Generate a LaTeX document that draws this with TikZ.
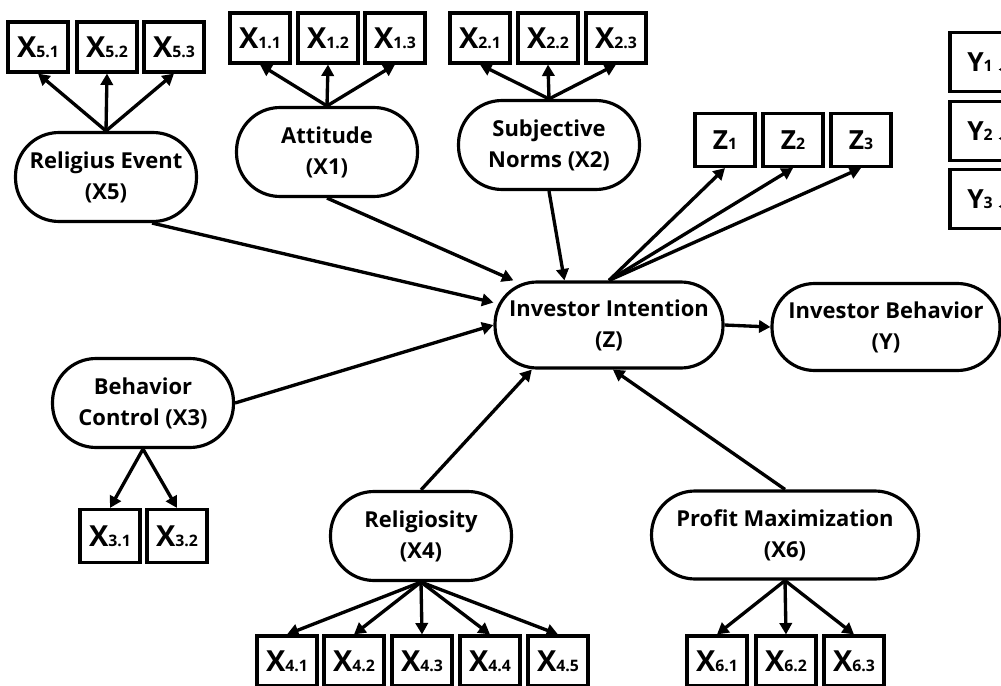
\documentclass[tikz,border=0pt]{standalone}
\usepackage{fontspec}
\setmainfont{Open Sans}
\usetikzlibrary{arrows.meta, positioning}

\newcommand{\indX}[2]{{\fontsize{16.5}{18}\selectfont #1}{\fontsize{9}{10}\selectfont #2}}
\newcommand{\indZ}[2]{{\fontsize{15}{17}\selectfont #1}{\fontsize{9}{10}\selectfont #2}}

\begin{document}
\begin{tikzpicture}[x=0.02cm, y=-0.02cm,
  latent/.style={draw, rectangle, rounded corners=0.87cm, line width=1.8pt, minimum width=3.62cm, minimum height=1.78cm, inner sep=1pt, align=center, font=\fontsize{12.5}{17.6}\selectfont\bfseries},
  item/.style={draw, rectangle, line width=1.8pt, minimum width=1.2cm, minimum height=1cm, inner sep=0pt, font=\bfseries},
  link/.style={line width=1.9pt, -{Triangle[length=6.5pt, width=7pt]}}]
\useasboundingbox (0,0) rectangle (1001,686);
\clip (0,0) rectangle (1001,686);

% latent variables
\node (X5) [latent] at (106,177) {Religius Event\\(X5)};
\node (X1) [latent] at (327,152) {Attitude\\(X1)};
\node (X2) [latent] at (549,145) {Subjective\\Norms (X2)};
\node (Z) [latent, minimum width=4.56cm, minimum height=1.72cm, rounded corners=0.84cm] at (609,325) {Investor Intention\\(Z)};
\node (Y) [latent, minimum width=4.56cm, minimum height=1.74cm, rounded corners=0.85cm] at (886,327) {Investor Behavior\\(Y)};
\node (X3) [latent] at (143,403) {Behavior\\Control (X3)};
\node (X4) [latent] at (421,536) {Religiosity\\(X4)};
\node (X6) [latent, minimum width=5.34cm, minimum height=1.76cm] at (785,535) {Profit Maximization\\(X6)};

% indicators
\node (X51) [item] at (38,47) {\indX{X}{5.1}};
\node (X52) [item] at (107,47) {\indX{X}{5.2}};
\node (X53) [item] at (174,47) {\indX{X}{5.3}};
\node (X11) [item] at (260,38) {\indX{X}{1.1}};
\node (X12) [item] at (328,38) {\indX{X}{1.2}};
\node (X13) [item] at (395,38) {\indX{X}{1.3}};
\node (X21) [item] at (480,38) {\indX{X}{2.1}};
\node (X22) [item] at (548,38) {\indX{X}{2.2}};
\node (X23) [item] at (616,38) {\indX{X}{2.3}};
\node (Z1) [item, minimum height=1.06cm] at (725,140) {\indZ{Z}{1}};
\node (Z2) [item, minimum height=1.06cm] at (793,140) {\indZ{Z}{2}};
\node (Z3) [item, minimum height=1.06cm] at (861,140) {\indZ{Z}{3}};
\node (Y1) [item, minimum height=1.18cm] at (980,62) {\indZ{Y}{1}\hspace{0.45cm}};
\node (Y2) [item, minimum height=1.18cm] at (980,131) {\indZ{Y}{2}\hspace{0.45cm}};
\node (Y3) [item, minimum height=1.18cm] at (980,199) {\indZ{Y}{3}\hspace{0.45cm}};
\node (X31) [item, minimum height=1.06cm] at (110,536) {\indX{X}{3.1}};
\node (X32) [item, minimum height=1.06cm] at (177,536) {\indX{X}{3.2}};
\node (X41) [item] at (287,661) {\indX{X}{4.1}};
\node (X42) [item] at (354,661) {\indX{X}{4.2}};
\node (X43) [item] at (422,661) {\indX{X}{4.3}};
\node (X44) [item] at (490,661) {\indX{X}{4.4}};
\node (X45) [item] at (558,661) {\indX{X}{4.5}};
\node (X61) [item] at (717,661) {\indX{X}{6.1}};
\node (X62) [item] at (786,661) {\indX{X}{6.2}};
\node (X63) [item] at (854,661) {\indX{X}{6.3}};

% measurement arrows
\foreach \i in {X51,X52,X53} \draw[link] (X5.north) -- (\i.south);
\foreach \i in {X11,X12,X13} \draw[link] (X1.north) -- (\i.south);
\foreach \i in {X21,X22,X23} \draw[link] (X2.north) -- (\i.south);
\foreach \i in {Z1,Z2,Z3} \draw[link] (Z.north) -- (\i.south);
\foreach \i in {X31,X32} \draw[link] (X3.south) -- (\i.north);
\foreach \i in {X41,X42,X43,X44,X45} \draw[link] (X4.south) -- (\i.north);
\foreach \i in {X61,X62,X63} \draw[link] (X6.south) -- (\i.north);

% Y indicators, cut at the page edge
\draw[line width=0.5pt] (Y.north east) -- (Y.north east |- Y1.north);
\foreach \i in {Y1,Y2,Y3}
  \draw[line width=1pt, -{Triangle[length=3pt, width=3pt]}] ([yshift=-0.15cm]Y.north east |- \i.east) -- ++(-3,0);

% structural paths
\draw[link] (X5.-45) -- (Z.169);
\draw[link] (X1.south) -- (Z.155);
\draw[link] (X2.south) -- (Z.135);
\draw[link] (X3.east) -- (Z.west);
\draw[link] (X4.north) -- (Z.210);
\draw[link] (X6.north) -- (Z.275);
\draw[link] (Z.east) -- (Y.west);
\end{tikzpicture}
\end{document}
